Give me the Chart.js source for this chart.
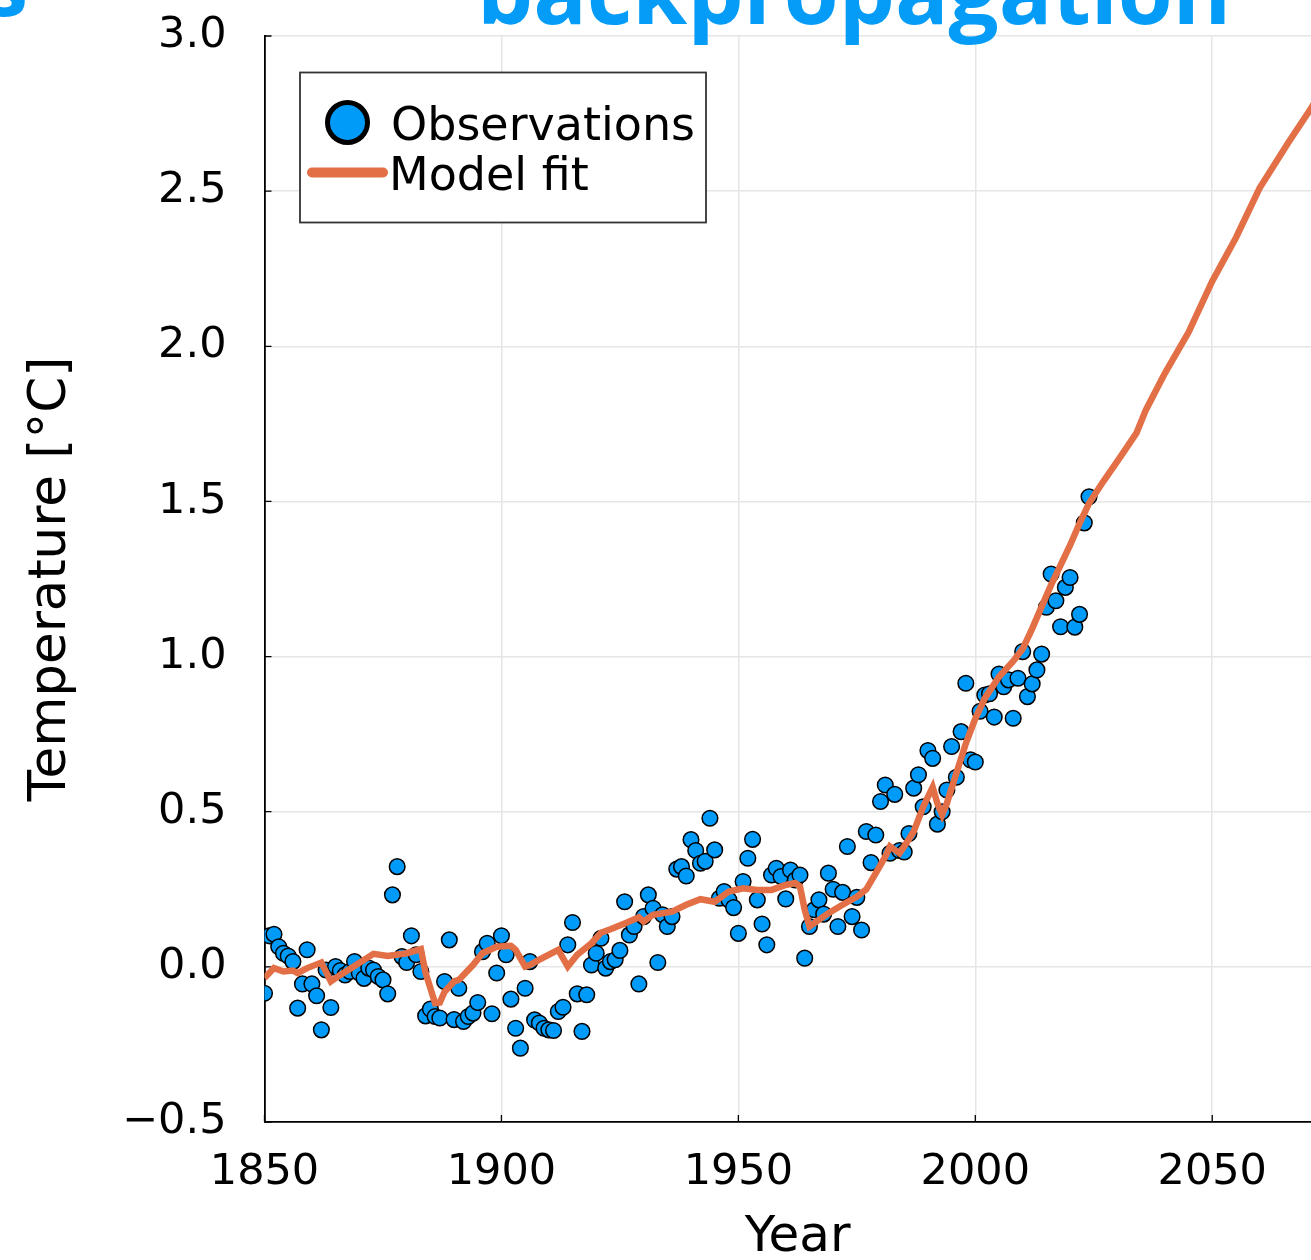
<!DOCTYPE html>
<html><head><meta charset="utf-8">
<script src="https://cdn.jsdelivr.net/npm/chart.js@4.4.1/dist/chart.umd.min.js"></script>
<style>
html,body{margin:0;padding:0;background:#fff;overflow:hidden;width:1311px;height:1260px;}
#wrap{position:relative;width:1340px;height:1300px;}
</style></head><body>
<div id="wrap"><canvas id="c" width="1340" height="1300"></canvas></div>
<script>
// ---- data ----
const obsStartYear = 1850;
const obsTemps = [
  -0.085, 0.10, 0.105, 0.065, 0.044, 0.035, 0.017, -0.133, -0.055, 0.055,
  -0.055, -0.093, -0.203, -0.01, -0.131, 0.001, -0.012, -0.026, -0.015, 0.017,
  -0.02, -0.037, -0.004, -0.01, -0.031, -0.042, -0.087, 0.232, 0.323, 0.033,
  0.014, 0.1, 0.039, -0.015, -0.158, -0.136, -0.16, -0.165, -0.047, 0.087,
  -0.17, -0.069, -0.176, -0.16, -0.149, -0.115, 0.049, 0.076, -0.151, -0.02,
  0.1, 0.039, -0.104, -0.198, -0.262, -0.069, 0.017, -0.171, -0.181, -0.198,
  -0.203, -0.205, -0.144, -0.13, 0.071, 0.143, -0.087, -0.208, -0.09, 0.006,
  0.044, 0.092, -0.004, 0.017, 0.023, 0.053, 0.21, 0.103, 0.13, -0.055,
  0.162, 0.232, 0.189, 0.014, 0.168, 0.13, 0.162, 0.315, 0.323, 0.293,
  0.41, 0.375, 0.334, 0.34, 0.479, 0.377, 0.221, 0.243, 0.216, 0.191,
  0.108, 0.275, 0.35, 0.411, 0.216, 0.138, 0.071, 0.296, 0.318, 0.291,
  0.219, 0.312, 0.28, 0.296, 0.028, 0.13, 0.184, 0.216, 0.17, 0.302,
  0.25, 0.13, 0.24, 0.388, 0.162, 0.224, 0.119, 0.436, 0.336, 0.425,
  0.533, 0.586, 0.366, 0.556, 0.375, 0.37, 0.43, 0.576, 0.619, 0.516,
  0.697, 0.672, 0.46, 0.5, 0.57, 0.71, 0.611, 0.758, 0.914, 0.667,
  0.66, 0.824, 0.876, 0.88, 0.805, 0.944, 0.903, 0.925, 0.801, 0.93,
  1.016, 0.871, 0.912, 0.957, 1.008, 1.159, 1.266, 1.18, 1.096, 1.223,
  1.255, 1.095, 1.136, 1.431, 1.515
];
const obsYears = obsTemps.map((_, i) => obsStartYear + i);

const fitYears = [1850,1852,1854,1856,1857,1859,1862,1864,1866,1869,
  1873,1876,1880,1883,1884,1886,1887,1888,1890,1891,
  1894,1896,1899,1902,1903,1905,1906,1908,1912,1914,
  1916,1919,1921,1923,1926,1929,1930,1932,1936,1939,
  1942,1945,1946,1948,1951,1954,1957,1960,1962,1963,
  1964,1965,1966,1969,1972,1975,1977,1979,1981,1982,
  1984,1985,1987,1989,1991,1992,1993,1994,1996,1998,
  2000,2002,2005,2008,2010,2012,2014,2016,2018,2020,
  2022,2024,2027,2030,2034,2036,2040,2045,2050,2055,
  2060,2066,2071,2075];
const fitTemps = [-0.036,-0.004,-0.015,-0.012,-0.02,-0.004,0.014,-0.047,-0.026,0.003,
  0.042,0.035,0.044,0.057,-0.02,-0.117,-0.115,-0.08,-0.047,-0.042,
  0.006,0.044,0.065,0.068,0.055,0.001,0.006,0.023,0.055,0.001,
  0.039,0.076,0.11,0.121,0.14,0.16,0.146,0.168,0.178,0.2,
  0.218,0.21,0.221,0.243,0.253,0.248,0.248,0.264,0.27,0.259,
  0.184,0.13,0.141,0.173,0.2,0.226,0.25,0.302,0.355,0.388,
  0.366,0.388,0.436,0.516,0.579,0.527,0.49,0.527,0.624,0.72,
  0.80,0.865,0.935,0.985,1.025,1.09,1.161,1.231,1.295,1.359,
  1.429,1.494,1.564,1.63,1.72,1.795,1.913,2.045,2.21,2.35,
  2.51,2.655,2.77,2.88];

const xTickValues = [1850, 1900, 1950, 2000, 2050];
const yTickValues = [-0.5, 0, 0.5, 1.0, 1.5, 2.0, 2.5, 3.0];
const seriesLabels = ['Observations', 'Model fit'];
const xAxisTitle = 'Year';
const yAxisTitle = 'Temperature [°C]';
const titleFragments = ['s', 'backpropagation'];

// ---- styles ----
const OBS_COLOR = '#009af9';
const FIT_COLOR = '#e26f46';
const FONT = 'DejaVu Sans';

const obsPoints = obsYears.map((x, i) => ({x, y: obsTemps[i]}));
const fitPoints = fitYears.map((x, i) => ({x, y: fitTemps[i]}));

const innerTicks = {
  id: 'innerTicks',
  beforeDatasetsDraw(chart) {
    const {ctx, chartArea: a, scales: {x, y}} = chart;
    ctx.save();
    ctx.strokeStyle = '#000';
    ctx.lineWidth = 1.3;
    ctx.beginPath();
    yTickValues.forEach(v => { const py = y.getPixelForValue(v); ctx.moveTo(a.left, py); ctx.lineTo(a.left + 7, py); });
    xTickValues.forEach(v => { const px = x.getPixelForValue(v); ctx.moveTo(px, a.bottom); ctx.lineTo(px, a.bottom - 7); });
    ctx.stroke();
    ctx.restore();
  }
};

const customLegend = {
  id: 'customLegend',
  afterDraw(chart) {
    const {ctx} = chart;
    ctx.save();
    ctx.fillStyle = '#fff';
    ctx.strokeStyle = '#333';
    ctx.lineWidth = 1.8;
    ctx.fillRect(300, 72.5, 406, 150);
    ctx.strokeRect(300, 72.5, 406, 150);
    ctx.beginPath();
    ctx.arc(347.5, 122.5, 20, 0, Math.PI * 2);
    ctx.fillStyle = OBS_COLOR;
    ctx.fill();
    ctx.lineWidth = 5;
    ctx.strokeStyle = '#000';
    ctx.stroke();
    ctx.beginPath();
    ctx.moveTo(312, 172.5);
    ctx.lineTo(383, 172.5);
    ctx.lineWidth = 10;
    ctx.lineCap = 'round';
    ctx.strokeStyle = FIT_COLOR;
    ctx.stroke();
    ctx.fillStyle = '#000';
    ctx.font = `46px "${FONT}"`;
    ctx.textBaseline = 'alphabetic';
    ctx.textAlign = 'left';
    ctx.fillText(seriesLabels[0], 391, 140);
    ctx.fillText(seriesLabels[1], 389, 190);
    ctx.restore();
  }
};

const clippedTitle = {
  id: 'clippedTitle',
  afterDraw(chart) {
    const {ctx} = chart;
    ctx.save();
    ctx.fillStyle = '#049cf6';
    ctx.font = `700 100px "Open Sans"`;
    const m = ctx.measureText(titleFragments[1]);
    const w = m.actualBoundingBoxLeft + m.actualBoundingBoxRight;
    const size = 100 * 742 / w;
    ctx.font = `700 ${size}px "Open Sans"`;
    const m2 = ctx.measureText(titleFragments[1]);
    ctx.textBaseline = 'alphabetic';
    ctx.textAlign = 'left';
    ctx.fillText(titleFragments[1], 483 + m2.actualBoundingBoxLeft, 24);
    const ms = ctx.measureText(titleFragments[0]);
    ctx.fillText(titleFragments[0], 25 - ms.actualBoundingBoxRight, 16);
    ctx.restore();
  }
};

new Chart(document.getElementById('c'), {
  type: 'scatter',
  data: {
    datasets: [
      {
        type: 'line',
        label: seriesLabels[1],
        data: fitPoints,
        borderColor: FIT_COLOR,
        borderWidth: 6.5,
        pointRadius: 0,
        tension: 0,
        fill: false,
        order: 0
      },
      {
        label: seriesLabels[0],
        data: obsPoints,
        backgroundColor: OBS_COLOR,
        borderColor: '#000',
        borderWidth: 1.5,
        pointRadius: 7.8,
        order: 1
      }
    ]
  },
  options: {
    responsive: false,
    animation: false,
    devicePixelRatio: 1,
    layout: {padding: {left: 0, top: 36, right: 7, bottom: 0}},
    plugins: {legend: {display: false}, tooltip: {enabled: false}, title: {display: false}},
    scales: {
      x: {
        type: 'linear',
        min: 1850, max: 2075,
        afterBuildTicks: s => { s.ticks = xTickValues.map(v => ({value: v})); },
        afterFit: s => { s.height = 178; s.paddingLeft = 0; s.paddingRight = 0; },
        ticks: {
          font: {family: FONT, size: 43}, color: '#000', padding: 25,
          maxRotation: 0, autoSkip: false, callback: v => String(v)
        },
        grid: {color: '#e6e6e6', lineWidth: 1.5, drawTicks: false},
        border: {display: true, color: '#000', width: 1.8},
        title: {display: true, text: xAxisTitle, color: '#000',
          font: {family: FONT, size: 50}, padding: {top: 0, bottom: 32}}
      },
      y: {
        type: 'linear',
        min: -0.5, max: 3.0,
        afterBuildTicks: s => { s.ticks = yTickValues.map(v => ({value: v})); },
        afterFit: s => { s.width = 264.5; s.paddingTop = 0; s.paddingBottom = 0; },
        ticks: {
          font: {family: FONT, size: 43}, color: '#000', padding: 38,
          callback: v => (v < 0 ? '\u2212' : '') + Math.abs(v).toFixed(1)
        },
        grid: {color: '#e6e6e6', lineWidth: 1.5, drawTicks: false},
        border: {display: true, color: '#000', width: 1.8},
        title: {display: true, text: yAxisTitle, color: '#000',
          font: {family: FONT, size: 51.5}, padding: {top: 21, bottom: 0}}
      }
    }
  },
  plugins: [innerTicks, customLegend, clippedTitle]
});
</script>
</body></html>
